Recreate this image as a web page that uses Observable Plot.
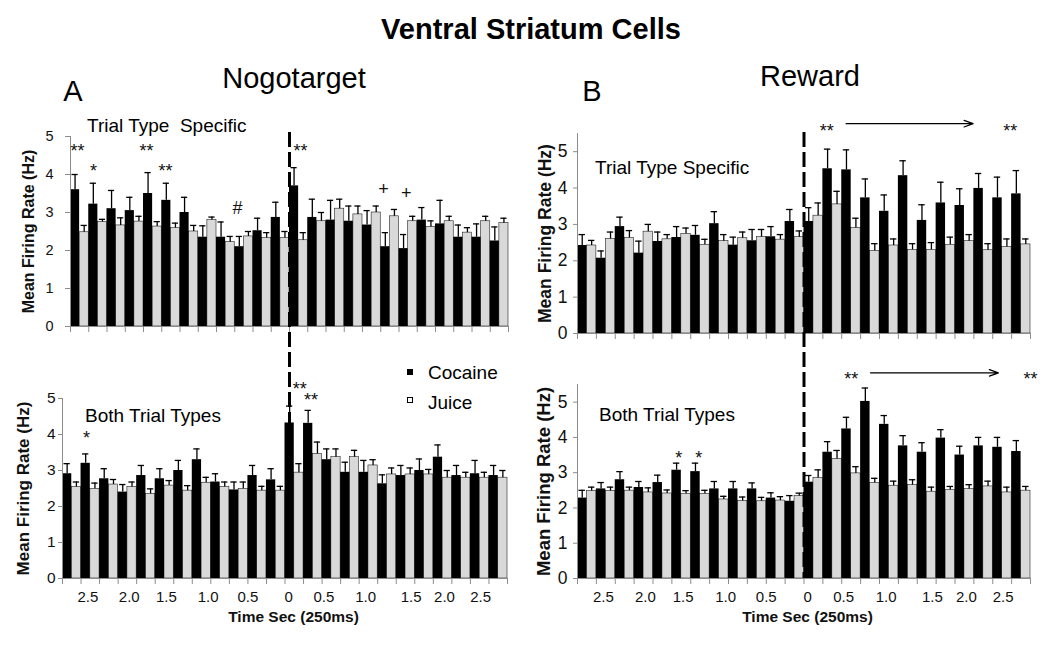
<!DOCTYPE html>
<html><head><meta charset="utf-8">
<script src="https://cdn.jsdelivr.net/npm/d3@7"></script>
<script src="https://cdn.jsdelivr.net/npm/@observablehq/plot@0.6"></script>
<style>
body{margin:0;background:#fff;font-family:"Liberation Sans",Arial,sans-serif;}
#fig{position:relative;width:1050px;height:647px;overflow:hidden;background:#fff;}
.t{position:absolute;line-height:1;white-space:pre;transform:translate(-50%,-50%);color:#000}
.l{position:absolute;line-height:1;white-space:pre;transform:translate(0,-50%);color:#000}
.p{position:absolute}
</style></head><body><div id="fig"></div>
<script>
// ---- data ----
const timeBins = d3.range(24);          // 24 bins of 250 ms, event at boundary 12
const eventBin = 12;
const yTicks = [0, 1, 2, 3, 4, 5];
const xTickLabels = ["2.5","2.0","1.5","1.0","0.5","0","0.5","1.0","1.5","2.0","2.5"];
const xTickLabelPos = [1.37, 3.6, 5.6, 7.85, 10.0, 12.2, 14.1, 16.35, 18.8, 20.6, 22.55];
const seriesNames = ["Cocaine", "Juice"];

// A — Nogotarget, trial type specific
const nogoSpecCocaine    = [3.6,3.22,3.1,3.05,3.5,3.32,3.0,2.35,2.35,2.1,2.52,2.87,3.7,2.87,2.8,2.77,2.67,2.1,2.05,2.8,2.7,2.35,2.35,2.25];
const nogoSpecCocaineSem = [0.40,0.55,0.48,0.35,0.55,0.45,0.40,0.30,0.40,0.27,0.33,0.40,0.48,0.48,0.52,0.40,0.38,0.37,0.37,0.33,0.62,0.32,0.35,0.37];
const nogoSpecJuice      = [2.48,2.75,2.66,2.76,2.63,2.59,2.5,2.8,2.22,2.37,2.33,2.33,2.27,2.77,3.1,2.95,3.0,2.9,2.77,2.62,2.77,2.47,2.77,2.72];
const nogoSpecJuiceSem   = [0.18,0.07,0.20,0.14,0.13,0.13,0.16,0.08,0.15,0.13,0.14,0.17,0.20,0.23,0.25,0.22,0.17,0.18,0.13,0.16,0.13,0.13,0.13,0.13];
const nogoSpecNotes = [
  {x:0.38,y:4.74,t:"**"},{x:1.26,y:4.2,t:"*"},{x:4.16,y:4.74,t:"**"},{x:5.2,y:4.2,t:"**"},
  {x:9.15,y:3.1,t:"#"},{x:12.6,y:4.74,t:"**"},{x:17.15,y:3.6,t:"+"},{x:18.4,y:3.5,t:"+"}];

// A — Nogotarget, both trial types
const nogoBothCocaine    = [2.91,3.2,2.77,2.4,2.86,2.77,3.0,3.3,2.68,2.46,2.86,2.74,4.32,4.31,3.3,2.95,2.95,2.63,2.86,3.0,3.37,2.86,2.91,2.86];
const nogoBothCocaineSem = [0.28,0.26,0.28,0.21,0.28,0.28,0.28,0.30,0.23,0.22,0.28,0.31,0.47,0.36,0.30,0.28,0.33,0.25,0.28,0.32,0.34,0.28,0.37,0.28];
const nogoBothJuice      = [2.54,2.49,2.61,2.54,2.35,2.58,2.44,2.66,2.54,2.49,2.44,2.44,2.94,3.46,3.37,3.37,3.14,2.89,2.89,2.89,2.8,2.8,2.8,2.8];
const nogoBothJuiceSem   = [0.14,0.16,0.14,0.14,0.14,0.14,0.14,0.15,0.14,0.19,0.12,0.12,0.25,0.33,0.23,0.19,0.16,0.18,0.18,0.14,0.20,0.15,0.15,0.20];
const nogoBothNotes = [{x:1.29,y:4.02,t:"*"},{x:12.8,y:5.39,t:"**"},{x:13.4,y:5.09,t:"**"}];

// B — Reward, trial type specific
const rewSpecCocaine    = [2.42,2.07,2.94,2.21,2.53,2.64,2.7,3.02,2.43,2.55,2.66,3.08,3.08,4.53,4.5,3.73,3.36,4.34,3.11,3.59,3.52,3.99,3.73,3.84];
const rewSpecCocaineSem = [0.30,0.20,0.26,0.33,0.26,0.30,0.27,0.33,0.22,0.31,0.28,0.33,0.38,0.54,0.55,0.52,0.45,0.41,0.43,0.57,0.46,0.41,0.57,0.64];
const rewSpecJuice      = [2.42,2.6,2.63,2.8,2.59,2.74,2.44,2.54,2.62,2.65,2.58,2.65,3.24,3.55,2.9,2.27,2.42,2.3,2.3,2.44,2.54,2.29,2.38,2.45];
const rewSpecJuiceSem   = [0.14,0.19,0.20,0.20,0.13,0.16,0.15,0.18,0.17,0.21,0.14,0.17,0.35,0.36,0.27,0.20,0.18,0.17,0.20,0.21,0.18,0.18,0.22,0.15];
const rewSpecNotes = [{x:13.2,y:5.68,t:"**"},{x:22.93,y:5.68,t:"**"}];
const rewSpecArrows = [{x1:14.23,x2:20.96,y:5.77}];

// B — Reward, both trial types
const rewBothCocaine    = [2.28,2.54,2.8,2.58,2.72,3.07,3.03,2.54,2.54,2.54,2.28,2.19,2.73,3.58,4.24,5.02,4.37,3.76,3.58,3.98,3.5,3.76,3.72,3.6];
const rewBothCocaineSem = [0.22,0.18,0.23,0.17,0.21,0.2,0.24,0.21,0.21,0.17,0.15,0.16,0.19,0.30,0.33,0.38,0.25,0.29,0.27,0.24,0.25,0.24,0.28,0.31];
const rewBothJuice      = [2.48,2.48,2.49,2.44,2.41,2.4,2.4,2.24,2.2,2.19,2.21,2.34,2.85,3.39,2.98,2.71,2.63,2.65,2.46,2.51,2.54,2.61,2.44,2.49];
const rewBothJuiceSem   = [0.11,0.11,0.10,0.13,0.10,0.09,0.10,0.09,0.11,0.11,0.11,0.08,0.23,0.24,0.19,0.13,0.13,0.15,0.13,0.10,0.12,0.15,0.15,0.12];
const rewBothNotes = [{x:5.36,y:3.53,t:"*"},{x:6.43,y:3.53,t:"*"},{x:14.5,y:5.79,t:"**"},{x:24.0,y:5.79,t:"**"}];
const rewBothArrows = [{x1:15.52,x2:22.3,y:5.83}];

// ---- layout ----
const fig = document.getElementById("fig");
const FONT = '"Liberation Sans", Arial, sans-serif';
const AXIS = "#8c8c8c";

function html(cls, text, x, y, style) {
  const d = document.createElement("div");
  d.className = cls; d.textContent = text;
  d.style.left = x + "px"; d.style.top = y + "px";
  Object.assign(d.style, style || {});
  fig.appendChild(d);
  return d;
}

const geom = {
  At: {left:0,   top:90,  width:520, height:250, mt:46, mb:14, ml:70, mr:12, yMax:5,   ytick:5, ypad:12, yfont:14.5, ylabDx:42, ylabFont:16},
  Ab: {left:0,   top:360, width:520, height:280, mt:38, mb:62, ml:62, mr:13, yMax:5,   ytick:4, ypad:3,  yfont:15.5, ylabDx:38.5, ylabFont:17, xdx:8.5},
  Bt: {left:520, top:90,  width:530, height:250, mt:43, mb:7,  ml:57, mr:20, yMax:5.5, ytick:4, ypad:6,  yfont:17.5, ylabDx:32.5, ylabFont:17.5},
  Bb: {left:520, top:360, width:530, height:280, mt:24, mb:62, ml:57, mr:20, yMax:5.5, ytick:4, ypad:6,  yfont:17.5, ylabDx:33, ylabFont:18.5, xdx:3.5}
};
function zeroPx(g) { return g.top + g.height - g.mb; }
function unitPx(g) { return (g.height - g.mt - g.mb) / g.yMax; }
function pageToY(g, px) { return (zeroPx(g) - px) / unitPx(g); }

function panel(g, cfg) {
  const rows = [];
  timeBins.forEach(i => {
    rows.push({x1: i, x2: i + 0.5, v: cfg.cocaine[i], e: cfg.cocaineSem[i], k: seriesNames[0]});
    rows.push({x1: i + 0.5, x2: i + 1, v: cfg.juice[i], e: cfg.juiceSem[i], k: seriesNames[1]});
  });
  const mid = d => (d.x1 + d.x2) / 2;
  const notes = cfg.notes || [];
  const marks = [
    Plot.rect(rows.filter(d => d.k === "Juice"), {x1: "x1", x2: "x2", y1: 0, y2: "v", fill: "#d9d9d9", stroke: "#222", strokeWidth: 0.6}),
    Plot.rect(rows.filter(d => d.k === "Cocaine"), {x1: "x1", x2: "x2", y1: 0, y2: "v", fill: "#000"}),
    Plot.ruleX(rows, {x: mid, y1: "v", y2: d => d.v + d.e, stroke: "#000", strokeWidth: 1.3}),
    Plot.ruleY(rows, {y: d => d.v + d.e, x1: d => mid(d) - 0.17, x2: d => mid(d) + 0.17, stroke: "#000", strokeWidth: 1.3}),
    Plot.ruleY([0], {stroke: AXIS}),
    Plot.ruleX([0], {y1: 0, y2: g.yMax, stroke: AXIS}),
    Plot.axisY({ticks: yTicks, tickFormat: d => String(d), tickSize: g.ytick, tickPadding: g.ypad, fontSize: g.yfont, stroke: AXIS, label: null}),
    Plot.axisX({ticks: d3.range(25), tickSize: 6, tickFormat: () => "", stroke: AXIS, label: null}),
    Plot.text(["Mean Firing Rate (Hz)"], {frameAnchor: "left", textAnchor: "middle", lineAnchor: "middle", rotate: -90, dx: -g.ylabDx, fontSize: g.ylabFont, fontWeight: "bold"}),
    Plot.text(notes.filter(d => d.t.includes("*")), {x: "x", y: "y", text: "t", fontSize: 18, dy: 4.5}),
    Plot.text(notes.filter(d => !d.t.includes("*")), {x: "x", y: "y", text: "t", fontSize: 18})
  ];
  if (cfg.arrows) marks.push(Plot.arrow(cfg.arrows, {x1: "x1", x2: "x2", y1: "y", y2: "y", stroke: "#000", strokeWidth: 1.2, headLength: 12, headAngle: 40}));
  if (cfg.xLabels) {
    marks.push(Plot.text(xTickLabels, {x: (d, i) => xTickLabelPos[i], y: 0, dy: 19, fontSize: 15}));
    marks.push(Plot.text(["Time Sec (250ms)"], {frameAnchor: "bottom", lineAnchor: "middle", textAnchor: "middle", dy: 39, dx: g.xdx, fontSize: 15.5, fontWeight: "bold"}));
  }
  if (cfg.event) marks.push(Plot.ruleX([eventBin], {y1: cfg.event[0], y2: cfg.event[1], stroke: "#000", strokeWidth: 3, strokeDasharray: "15,5"}));
  const svg = Plot.plot({
    width: g.width, height: g.height,
    marginTop: g.mt, marginBottom: g.mb, marginLeft: g.ml, marginRight: g.mr,
    x: {domain: [0, 24]}, y: {domain: [0, g.yMax]},
    style: {background: "transparent", overflow: "visible", fontFamily: FONT, color: "#111"},
    marks
  });
  const wrap = document.createElement("div");
  wrap.className = "p";
  wrap.style.left = g.left + "px"; wrap.style.top = g.top + "px";
  wrap.style.zIndex = cfg.event ? 2 : 1;
  wrap.appendChild(svg);
  fig.appendChild(wrap);
}

const eventTopPx = 132;
panel(geom.Ab, {cocaine: nogoBothCocaine, cocaineSem: nogoBothCocaineSem, juice: nogoBothJuice, juiceSem: nogoBothJuiceSem, notes: nogoBothNotes, xLabels: true});
panel(geom.Bb, {cocaine: rewBothCocaine, cocaineSem: rewBothCocaineSem, juice: rewBothJuice, juiceSem: rewBothJuiceSem, notes: rewBothNotes, arrows: rewBothArrows, xLabels: true});
panel(geom.At, {cocaine: nogoSpecCocaine, cocaineSem: nogoSpecCocaineSem, juice: nogoSpecJuice, juiceSem: nogoSpecJuiceSem, notes: nogoSpecNotes,
  event: [pageToY(geom.At, eventTopPx), pageToY(geom.At, zeroPx(geom.Ab))]});
panel(geom.Bt, {cocaine: rewSpecCocaine, cocaineSem: rewSpecCocaineSem, juice: rewSpecJuice, juiceSem: rewSpecJuiceSem, notes: rewSpecNotes, arrows: rewSpecArrows,
  event: [pageToY(geom.Bt, eventTopPx), pageToY(geom.Bt, zeroPx(geom.Bb))]});

// ---- texts ----
const big = {fontSize: "29px"};
html("t", "Ventral Striatum Cells", 531, 29, {fontSize: "29px", fontWeight: "bold"});
html("t", "Nogotarget", 294, 78, big);
html("t", "Reward", 810, 76, big);
html("t", "A", 73, 91, big);
html("t", "B", 592, 91, big);
html("l", "Trial Type  Specific", 87, 125, {fontSize: "19px", zIndex: 3});
html("l", "Trial Type Specific", 595, 167, {fontSize: "19px", zIndex: 3});
html("l", "Both Trial Types", 85, 415, {fontSize: "19px", zIndex: 3});
html("l", "Both Trial Types", 599, 414, {fontSize: "19px", zIndex: 3});
// legend
html("p", "", 407, 369, {width: "6px", height: "6px", background: "#000", zIndex: 3});
html("p", "", 407, 397, {width: "6px", height: "6px", background: "#fff", border: "1px solid #000", boxSizing: "border-box", zIndex: 3});
html("l", seriesNames[0], 428, 372, {fontSize: "19px", zIndex: 3});
html("l", seriesNames[1], 428, 402, {fontSize: "19px", zIndex: 3});
</script></body></html>
